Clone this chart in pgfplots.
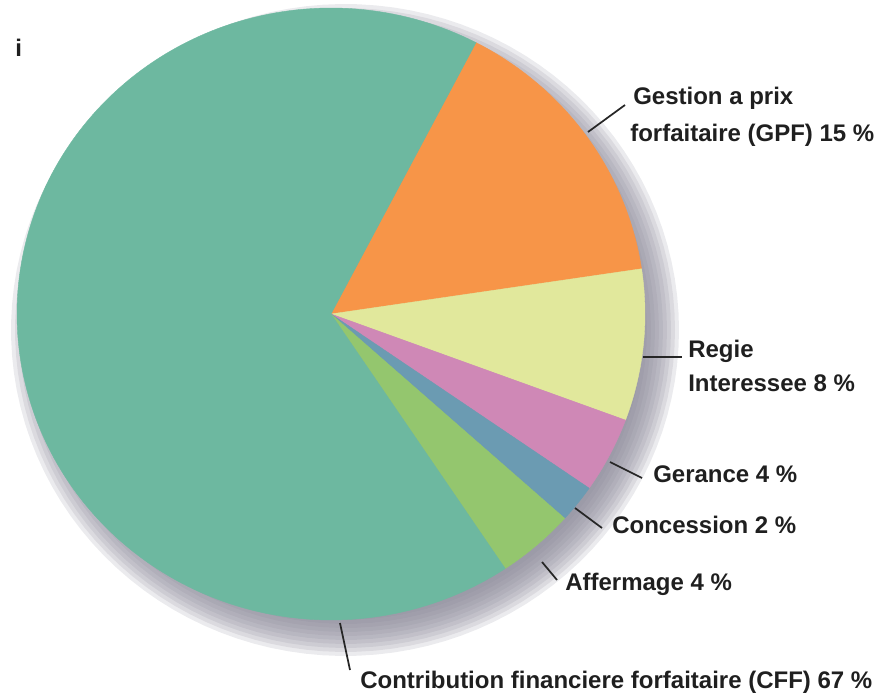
\documentclass[border=0pt]{standalone}
\usepackage{fontspec}
\setmainfont{Liberation Sans}
\newfontfamily\lab{Liberation Sans}
\usepackage{pgfplots}
\pgfplotsset{compat=1.18}
\definecolor{cff}{HTML}{6DB8A0}
\definecolor{gpf}{HTML}{F79548}
\definecolor{regie}{HTML}{E1E89C}
\definecolor{ger}{HTML}{CF88B6}
\definecolor{conc}{HTML}{6B9BB2}
\definecolor{aff}{HTML}{94C66E}
\definecolor{shad}{HTML}{8A8898}
\def\cx{331}\def\cy{314}\def\rx{314}\def\ry{306}
\tikzset{lbl/.style={font=\lab\bfseries\fontsize{18}{24}\selectfont, anchor=base west, inner sep=0pt, text=black!88}}
\begin{document}
\begin{tikzpicture}
% slice shares (percent), clockwise from the top boundary
\pgfmathsetmacro\aA{62.5}
\pgfmathsetmacro\aB{\aA-3.6*15} % GPF 15
\pgfmathsetmacro\aC{\aB-3.6*8}  % Regie 8
\pgfmathsetmacro\aD{\aC-3.6*4}  % Gerance 4
\pgfmathsetmacro\aE{\aD-3.6*2}  % Concession 2
\pgfmathsetmacro\aF{\aE-3.6*4}  % Affermage 4
\pgfmathsetmacro\aG{\aF-3.6*67} % CFF 67
\begin{axis}[scale only axis, width=664.5pt, height=523.5pt,
  xmin=0, xmax=886, ymin=0, ymax=698, y dir=reverse, hide axis, clip=false]
\addplot[draw=none, forget plot] coordinates {(0,0) (886,698)};
% shadow
\pgfplotsinvokeforeach{-16,-12,-8,-4,0,4,8,12,16,20}{
\addplot[draw=none, fill=shad, fill opacity=0.17, domain=0:360, samples=120]
  ({\cx+14+(\rx+#1)*cos(x)},{\cy+16-(\ry+#1)*sin(x)});
}
\addplot[fill=gpf, draw=gpf, line width=0.3pt, domain=\aB:\aA, samples=60]
  ({\cx+\rx*cos(x)},{\cy-\ry*sin(x)}) -- (axis cs:\cx,\cy) -- cycle;
\addplot[fill=regie, draw=regie, line width=0.3pt, domain=\aC:\aB, samples=40]
  ({\cx+\rx*cos(x)},{\cy-\ry*sin(x)}) -- (axis cs:\cx,\cy) -- cycle;
\addplot[fill=ger, draw=ger, line width=0.3pt, domain=\aD:\aC, samples=30]
  ({\cx+\rx*cos(x)},{\cy-\ry*sin(x)}) -- (axis cs:\cx,\cy) -- cycle;
\addplot[fill=conc, draw=conc, line width=0.3pt, domain=\aE:\aD, samples=20]
  ({\cx+\rx*cos(x)},{\cy-\ry*sin(x)}) -- (axis cs:\cx,\cy) -- cycle;
\addplot[fill=aff, draw=aff, line width=0.3pt, domain=\aF:\aE, samples=30]
  ({\cx+\rx*cos(x)},{\cy-\ry*sin(x)}) -- (axis cs:\cx,\cy) -- cycle;
\addplot[fill=cff, draw=cff, line width=0.3pt, domain=\aG:\aF, samples=180]
  ({\cx+\rx*cos(x)},{\cy-\ry*sin(x)}) -- (axis cs:\cx,\cy) -- cycle;
% leader lines
\addplot[black!85, line width=1.3pt] coordinates {(588,132) (625,105)};
\addplot[black!85, line width=1.3pt] coordinates {(643,357) (682,357)};
\addplot[black!85, line width=1.3pt] coordinates {(610,462) (642,478)};
\addplot[black!85, line width=1.3pt] coordinates {(575,508) (602,528)};
\addplot[black!85, line width=1.3pt] coordinates {(542,562) (557,580)};
\addplot[black!85, line width=1.3pt] coordinates {(340,623) (350,670)};
% labels
\node[lbl] at (axis cs:633,105) {Gestion a prix};
\node[lbl] at (axis cs:630,142) {forfaitaire (GPF) 15 \%};
\node[lbl] at (axis cs:688,358) {Regie};
\node[lbl] at (axis cs:688,392) {Interessee 8 \%};
\node[lbl] at (axis cs:653,483) {Gerance 4 \%};
\node[lbl] at (axis cs:612,534) {Concession 2 \%};
\node[lbl] at (axis cs:565,590) {Affermage 4 \%};
\node[lbl] at (axis cs:360,688) {Contribution financiere forfaitaire (CFF) 67 \%};
\node[lbl] at (axis cs:15,57) {i};
\end{axis}
\end{tikzpicture}
\end{document}
